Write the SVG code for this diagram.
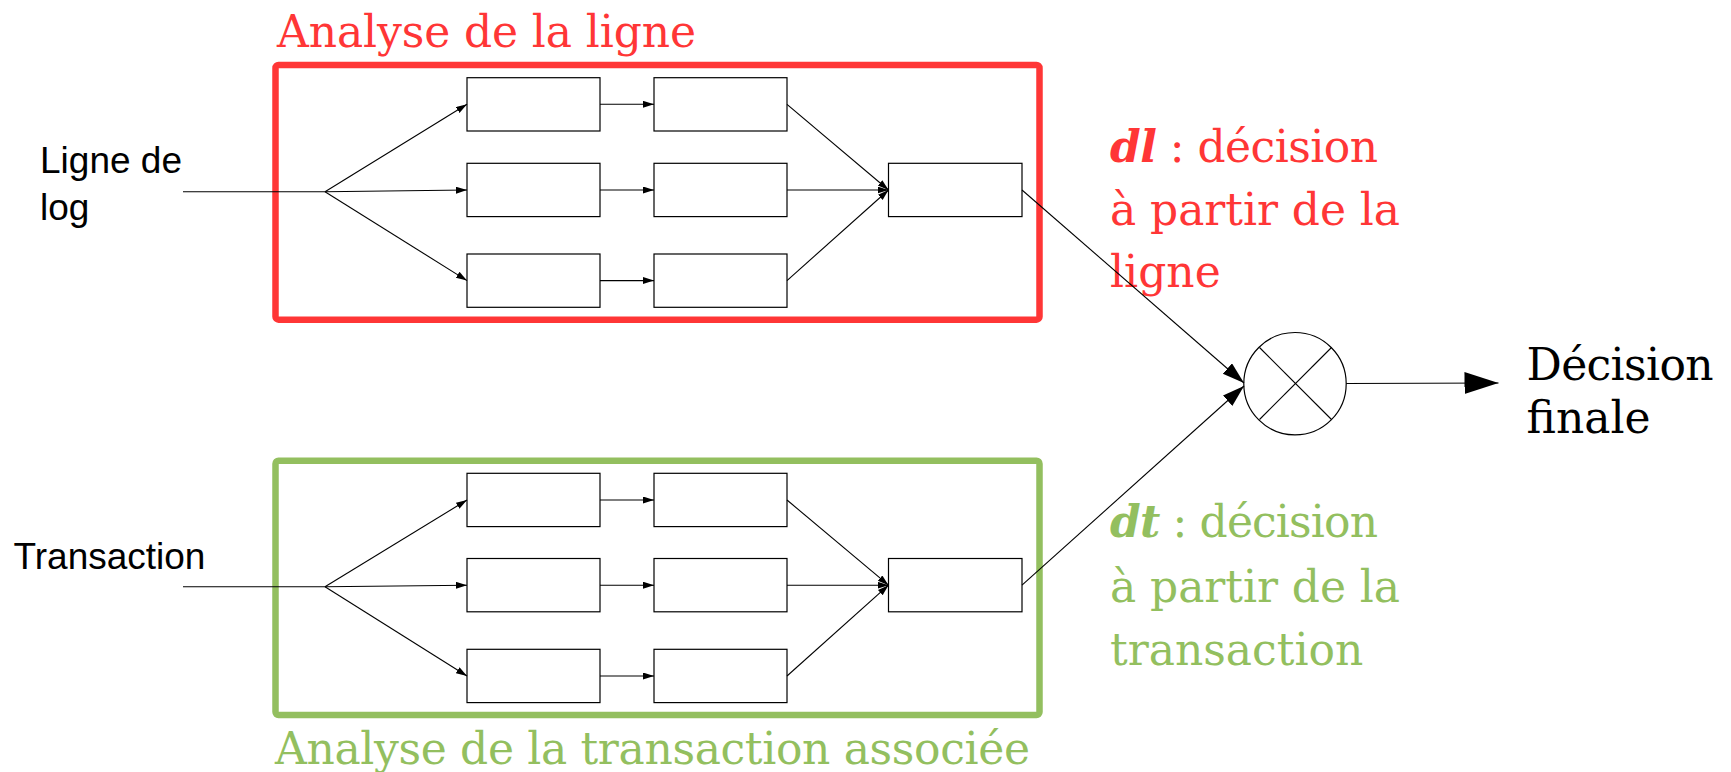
<svg xmlns="http://www.w3.org/2000/svg" width="1731" height="772" viewBox="0 0 1731 772">
  <style>
    .serif { font-family: "DejaVu Serif", "Liberation Serif", serif; font-size: 44px; }
    .sans { font-family: "Liberation Sans", Arial, sans-serif; font-size: 37px; fill: #000; }
    .red { fill: #ff3636; }
    .green { fill: #93bf5f; }
    .frame { fill: none; stroke-width: 6.5; stroke-linejoin: round; }
    .box { fill: #fff; stroke: #000; stroke-width: 1.2; }
    .wire { fill: none; stroke: #000; stroke-width: 1.1; }
    .emph { font-weight: bold; font-style: italic; }
  </style>
  <defs>
    <marker id="arrowSmall" markerUnits="userSpaceOnUse" markerWidth="12" markerHeight="8" refX="11" refY="3.5" orient="auto">
      <path d="M0,0 L11,3.5 L0,7 z" fill="#000"/>
    </marker>
    <marker id="arrowMid" markerUnits="userSpaceOnUse" markerWidth="24" markerHeight="16" refX="22" refY="7" orient="auto">
      <path d="M0,0 L22,7 L0,14 z" fill="#000"/>
    </marker>
    <marker id="arrowBig" markerUnits="userSpaceOnUse" markerWidth="36" markerHeight="24" refX="34" refY="11" orient="auto">
      <path d="M0,0 L34,11 L0,22 z" fill="#000"/>
    </marker>
  </defs>

  <rect width="1731" height="772" fill="#fff"/>

  <!-- line analysis block -->
  <g id="line-analysis">
    <rect class="frame" x="275.5" y="65" width="764" height="254.7" rx="3" stroke="#ff3636"/>
    <text class="serif red" x="277" y="46.7" textLength="419">Analyse de la ligne</text>
  </g>

  <!-- transaction analysis block -->
  <g id="transaction-analysis">
    <rect class="frame" x="275.5" y="460.7" width="764" height="254.3" rx="3" stroke="#93bf5f"/>
    <text class="serif green" x="275" y="763.5" textLength="755">Analyse de la transaction associée</text>
  </g>

  <!-- inputs -->
  <g id="input-line">
    <text class="sans" x="40" y="173">Ligne de</text>
    <text class="sans" x="40" y="220">log</text>
  </g>
  <g id="input-transaction">
    <text class="sans" x="13.5" y="569.3">Transaction</text>
  </g>

  <!-- processing boxes, line branch -->
  <g id="line-boxes">
    <rect class="box" x="467" y="77.7" width="133" height="53.3"/>
    <rect class="box" x="467" y="163.3" width="133" height="53.3"/>
    <rect class="box" x="467" y="254" width="133" height="53.3"/>
    <rect class="box" x="654" y="77.7" width="133" height="53.3"/>
    <rect class="box" x="654" y="163.3" width="133" height="53.3"/>
    <rect class="box" x="654" y="254" width="133" height="53.3"/>
  </g>
  <g id="line-merge">
    <rect class="box" x="888.5" y="163.3" width="133.5" height="53.3"/>
  </g>

  <!-- processing boxes, transaction branch -->
  <g id="transaction-boxes">
    <rect class="box" x="467" y="473.3" width="133" height="53.3"/>
    <rect class="box" x="467" y="558.5" width="133" height="53.3"/>
    <rect class="box" x="467" y="649.3" width="133" height="53.3"/>
    <rect class="box" x="654" y="473.3" width="133" height="53.3"/>
    <rect class="box" x="654" y="558.5" width="133" height="53.3"/>
    <rect class="box" x="654" y="649.3" width="133" height="53.3"/>
  </g>
  <g id="transaction-merge">
    <rect class="box" x="888.5" y="558.5" width="133.5" height="53.3"/>
  </g>

  <!-- combination operator -->
  <g id="combiner">
    <circle cx="1295" cy="383.7" r="51.2" fill="#fff" stroke="#000" stroke-width="1.2"/>
    <line x1="1259.5" y1="347.5" x2="1331.5" y2="419.5" stroke="#000" stroke-width="1.1"/>
    <line x1="1331.5" y1="347.5" x2="1259.5" y2="419.5" stroke="#000" stroke-width="1.1"/>
  </g>

  <!-- decision labels -->
  <g id="label-dl">
    <text class="serif red" x="1110" y="161.5" textLength="268"><tspan class="emph">dl</tspan> : décision</text>
    <text class="serif red" x="1110" y="225" textLength="290">à partir de la</text>
    <text class="serif red" x="1110" y="287">ligne</text>
  </g>
  <g id="label-dt">
    <text class="serif green" x="1110" y="537" textLength="268"><tspan class="emph">dt</tspan> : décision</text>
    <text class="serif green" x="1110" y="602" textLength="290">à partir de la</text>
    <text class="serif green" x="1110" y="665">transaction</text>
  </g>
  <g id="final-decision">
    <text class="serif" x="1526.6" y="380" fill="#000" textLength="187">Décision</text>
    <text class="serif" x="1526.6" y="433" fill="#000">finale</text>
  </g>

  <!-- connectors -->
  <g id="connectors">
    <!-- line branch -->
    <polyline class="wire" points="183,191.7 325,191.7"/>
    <line class="wire" x1="325" y1="191.7" x2="467" y2="104.3" marker-end="url(#arrowSmall)"/>
    <line class="wire" x1="325" y1="191.7" x2="467" y2="190" marker-end="url(#arrowSmall)"/>
    <line class="wire" x1="325" y1="191.7" x2="467" y2="280.6" marker-end="url(#arrowSmall)"/>
    <line class="wire" x1="600" y1="104.3" x2="654" y2="104.3" marker-end="url(#arrowSmall)"/>
    <line class="wire" x1="600" y1="190" x2="654" y2="190" marker-end="url(#arrowSmall)"/>
    <line class="wire" x1="600" y1="280.6" x2="654" y2="280.6" marker-end="url(#arrowSmall)"/>
    <line class="wire" x1="787" y1="104.3" x2="888.5" y2="190" marker-end="url(#arrowSmall)"/>
    <line class="wire" x1="787" y1="190" x2="888.5" y2="190" marker-end="url(#arrowSmall)"/>
    <line class="wire" x1="787" y1="280.6" x2="888.5" y2="190" marker-end="url(#arrowSmall)"/>
    <line class="wire" x1="1022" y1="190" x2="1244" y2="383" marker-end="url(#arrowMid)"/>

    <!-- transaction branch -->
    <polyline class="wire" points="183,586.7 325,586.7"/>
    <line class="wire" x1="325" y1="586.7" x2="467" y2="500" marker-end="url(#arrowSmall)"/>
    <line class="wire" x1="325" y1="586.7" x2="467" y2="585.2" marker-end="url(#arrowSmall)"/>
    <line class="wire" x1="325" y1="586.7" x2="467" y2="676" marker-end="url(#arrowSmall)"/>
    <line class="wire" x1="600" y1="500" x2="654" y2="500" marker-end="url(#arrowSmall)"/>
    <line class="wire" x1="600" y1="585.2" x2="654" y2="585.2" marker-end="url(#arrowSmall)"/>
    <line class="wire" x1="600" y1="676" x2="654" y2="676" marker-end="url(#arrowSmall)"/>
    <line class="wire" x1="787" y1="500" x2="888.5" y2="585.2" marker-end="url(#arrowSmall)"/>
    <line class="wire" x1="787" y1="585.2" x2="888.5" y2="585.2" marker-end="url(#arrowSmall)"/>
    <line class="wire" x1="787" y1="676" x2="888.5" y2="585.2" marker-end="url(#arrowSmall)"/>
    <line class="wire" x1="1022" y1="585.2" x2="1244" y2="386" marker-end="url(#arrowMid)"/>

    <!-- output -->
    <line class="wire" x1="1346.2" y1="383.5" x2="1498.5" y2="383" marker-end="url(#arrowBig)"/>
  </g>
</svg>
